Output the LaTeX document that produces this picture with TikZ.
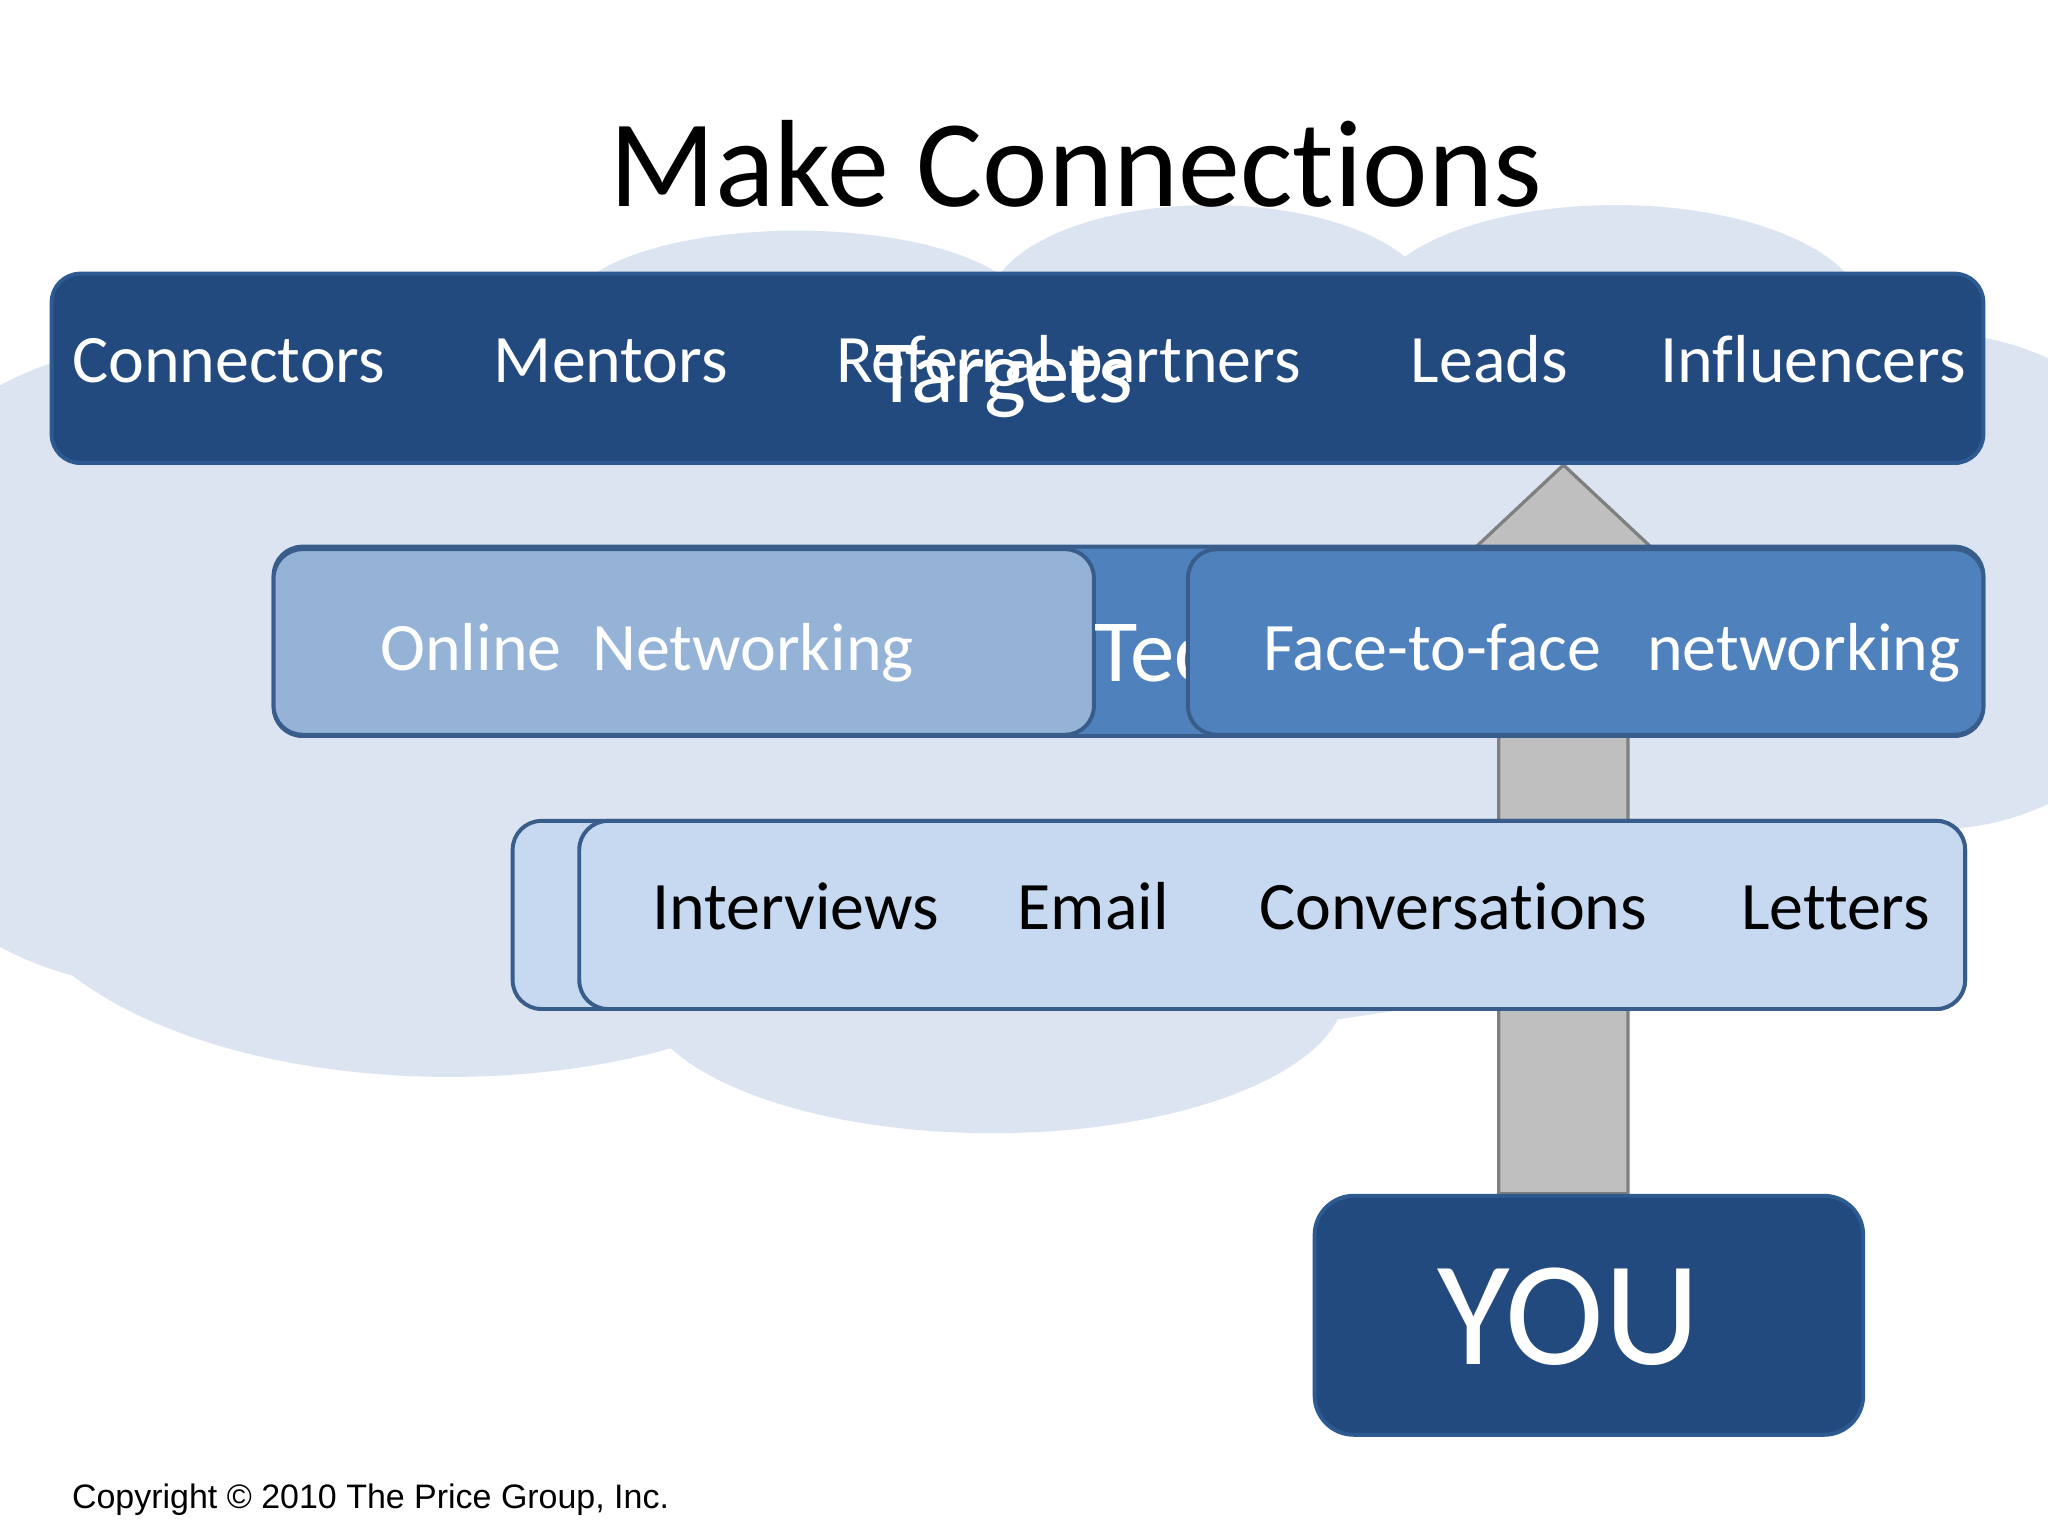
\documentclass[tikz,border=0pt]{standalone}
\usepackage{fontspec}
\setmainfont{Carlito}[Ligatures={NoCommon}]
\newfontfamily\copyfont{Liberation Sans}
\usetikzlibrary{calc,backgrounds}
\definecolor{navy}{HTML}{224A7E}
\definecolor{navyline}{HTML}{2E5A92}
\definecolor{midblue}{HTML}{4F81BD}
\definecolor{paleblue}{HTML}{95B3D7}
\definecolor{iceblue}{HTML}{C6D9F1}
\definecolor{boxline}{HTML}{385D8A}
\definecolor{cloudblue}{HTML}{DCE4F2}
\definecolor{arrowgray}{HTML}{BFBFBF}
\definecolor{arrowline}{HTML}{7F7F7F}

\begin{document}
\begin{tikzpicture}[x=1pt,y=-1pt,
  bar/.style={rectangle,rounded corners=22pt,line width=3pt,anchor=north west,inner sep=0pt},
  word/.style={anchor=base west,inner sep=0pt,font=\fontsize{52}{60}\selectfont},
  bigarrow/.style={fill=arrowgray,draw=arrowline,line width=2.5pt,line join=miter}]
  \useasboundingbox (0,0) rectangle (1568,1176);

  \begin{scope}[on background layer]
    \fill[white] (0,0) rectangle (1568,1176);
    \clip (0,0) rectangle (1568,1176);
    % cloud behind the bars
    \fill[cloudblue] (800,515) ellipse [x radius=700, y radius=280];
    \fill[cloudblue] (120,510) ellipse [x radius=250, y radius=245];
    \fill[cloudblue] (344,659.5) ellipse [x radius=340, y radius=165];
    \fill[cloudblue] (760,757.6) ellipse [x radius=270, y radius=110];
    \fill[cloudblue] (1480,445) ellipse [x radius=200, y radius=190];
    \fill[cloudblue] (610,238.6) ellipse [x radius=175, y radius=62];
    \fill[cloudblue] (927,234) ellipse [x radius=170, y radius=77];
    \fill[cloudblue] (1237,240.5) ellipse [x radius=190, y radius=83.5];
  \end{scope}

  \node[anchor=base,inner sep=0pt,font=\fontsize{95}{110}\selectfont] (title) at (823.5,158) {Make Connections};

  % top level
  \node[bar,fill=navy,draw=navyline,minimum width=1479pt,minimum height=145pt] (targets) at (38,208) {};
  \foreach \txt/\x [count=\i] in {Connectors/55, Mentors/378, Referral partners/640, Leads/1080, Influencers/1271}
  \node[word,text=white] (top\i) at (\x,293) {\txt};
  \node[anchor=base,inner sep=0pt,text=white,font=\fontsize{68}{80}\selectfont] (targetslabel) at (769,308) {Targets};

  % middle level
  \node[bar,fill=midblue,draw=boxline,minimum width=1309pt,minimum height=145pt] (techniques) at (208,417) {};
  \node[bar,fill=paleblue,draw=boxline,minimum width=628pt,minimum height=142pt] (online) at (208,419) {};
  \node[word,text=white] (onlinetext) at (291,513) {Online\ \ Networking};
  \node[anchor=base west,inner sep=0pt,text=white,font=\fontsize{68}{80}\selectfont] (teclabel) at (838,522) {Tec};
  \node[bar,fill=midblue,draw=boxline,minimum width=609pt,minimum height=142pt] (face) at (908,419) {};
  \node[word,text=white] (facetext) at (967,513) {Face-to-face\ \ \ networking};

  % bottom level
  \node[bar,fill=iceblue,draw=boxline,minimum width=1112pt,minimum height=144pt] (tools) at (391,627) {};
  \node[bar,fill=iceblue,draw=boxline,minimum width=1061pt,minimum height=144pt] (toolsinner) at (442,627) {};
  \foreach \txt/\x [count=\i] in {Interviews/499, Email/779, Conversations/964, Letters/1333}
  \node[word] (low\i) at (\x,712) {\txt};

  % you
  \node[bar,rounded corners=30pt,fill=navy,draw=navyline,minimum width=420pt,minimum height=183pt] (you) at (1005,914) {};
  \node[anchor=base,inner sep=0pt,text=white,font=\fontsize{114}{124}\selectfont] (youtext) at (1201,1045) {YOU};

  % arrow from you up to the targets
  \coordinate (tip) at ([xshift=418pt]targets.south);
  \coordinate (tail) at (tip |- you.north);
  \begin{scope}[on background layer]
    \draw[bigarrow] ($(tail)+(-49.5,0)$) -- ($(tip)+(-49.5,75)$) -- ($(tip)+(-80,75)$) -- (tip)
      -- ($(tip)+(80,75)$) -- ($(tip)+(49.5,75)$) -- ($(tail)+(49.5,0)$) -- cycle;
  \end{scope}

  \node[anchor=base west,inner sep=0pt,font=\copyfont\fontsize{26}{30}\selectfont] (copyright) at (55,1155) {Copyright \textcopyright{} 2010 The Price Group, Inc.};
\end{tikzpicture}
\end{document}
